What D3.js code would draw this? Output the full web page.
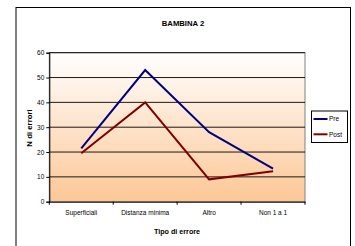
<!DOCTYPE html>
<html>
<head>
<meta charset="utf-8">
<script src="https://cdn.jsdelivr.net/npm/d3@7"></script>
<style>
  body { margin: 0; background: #fff; }
  text { font-family: "Liberation Sans Narrow", "Liberation Sans", Arial, sans-serif; fill: #000; }
</style>
</head>
<body>
<div id="chart"></div>
<script>
// data
var categories = ["Superficiali", "Distanza minima", "Altro", "Non 1 a 1"];
var preValues = [21.5, 53, 28, 13.3];
var postValues = [19.5, 40, 9, 12.3];
var seriesNames = ["Pre", "Post"];
var yTicks = [0, 10, 20, 30, 40, 50, 60];

var svgWidth = 355, svgHeight = 246;
var margin = { top: 52.7, right: 50, bottom: 44.3, left: 49.3 };
var width = 305 - margin.left;
var height = 201.7 - margin.top;

var svg = d3.select("#chart").append("svg")
  .attr("width", svgWidth)
  .attr("height", svgHeight);

// outer chart frame
svg.append("rect")
  .attr("x", 16).attr("y", 7.5)
  .attr("width", 334.5).attr("height", 250)
  .attr("fill", "#fff")
  .attr("stroke", "#000")
  .attr("stroke-width", 1);

var defs = svg.append("defs");
var grad = defs.append("linearGradient")
  .attr("id", "bg").attr("x1", 0).attr("y1", 0).attr("x2", 0).attr("y2", 1);
grad.append("stop").attr("offset", "0%").attr("stop-color", "#ffffff");
grad.append("stop").attr("offset", "100%").attr("stop-color", "#fcc795");

var chartGroup = svg.append("g")
  .attr("transform", `translate(${margin.left}, ${margin.top})`);

var xScale = d3.scaleBand().domain(categories).range([0, width]);
var yScale = d3.scaleLinear().domain([0, 60]).range([height, 0]);

chartGroup.append("rect")
  .attr("width", width).attr("height", height)
  .attr("fill", "url(#bg)")
  .attr("stroke", "#808080")
  .attr("stroke-width", 1);

// grid lines
chartGroup.selectAll(".grid")
  .data(yTicks.filter(d => d > 0))
  .enter().append("line")
  .attr("x1", 0).attr("x2", width)
  .attr("y1", d => yScale(d)).attr("y2", d => yScale(d))
  .attr("stroke", "#000").attr("stroke-width", 0.9);

// y axis
var leftAxis = d3.axisLeft(yScale).tickValues(yTicks).tickSize(3).tickPadding(2);
var yAxis = chartGroup.append("g").call(leftAxis);
yAxis.select(".domain").attr("stroke", "#000");
yAxis.selectAll("text").style("font-size", "6.5px");

// x axis
var bottomAxis = d3.axisBottom(xScale).tickSize(0).tickPadding(9);
var xAxis = chartGroup.append("g")
  .attr("transform", `translate(0, ${height})`)
  .call(bottomAxis);
xAxis.select(".domain").attr("stroke", "#000");
xAxis.selectAll("text").style("font-size", "6.5px");
// tick marks between categories
xAxis.selectAll(".sep")
  .data(d3.range(categories.length + 1))
  .enter().append("line")
  .attr("x1", d => d * xScale.step()).attr("x2", d => d * xScale.step())
  .attr("y1", 0).attr("y2", 3)
  .attr("stroke", "#000");

var line = d3.line()
  .x((d, i) => xScale(categories[i]) + xScale.bandwidth() / 2)
  .y(d => yScale(d));

var colors = ["#000080", "#800000"];
[preValues, postValues].forEach(function(vals, i) {
  chartGroup.append("path")
    .datum(vals)
    .attr("d", line)
    .attr("fill", "none")
    .attr("stroke", colors[i])
    .attr("stroke-width", 2);
});

// title
svg.append("text")
  .attr("x", 183).attr("y", 26)
  .attr("text-anchor", "middle")
  .style("font-size", "7.7px").style("font-weight", "bold")
  .text("BAMBINA 2");

// axis titles
svg.append("text")
  .attr("x", 177).attr("y", 233.5)
  .attr("text-anchor", "middle")
  .style("font-size", "7.2px").style("font-weight", "bold")
  .text("Tipo di errore");

svg.append("text")
  .attr("transform", "translate(32, 128) rotate(-90)")
  .attr("text-anchor", "middle")
  .style("font-size", "7.8px").style("font-weight", "bold")
  .text("N di errori");

// legend
var legend = svg.append("g").attr("transform", "translate(311.5, 111)");
legend.append("rect")
  .attr("width", 36).attr("height", 31.5)
  .attr("fill", "#fff").attr("stroke", "#000").attr("stroke-width", 1);
seriesNames.forEach(function(name, i) {
  var y = 8 + i * 15.3;
  legend.append("line")
    .attr("x1", 2).attr("x2", 16).attr("y1", y).attr("y2", y)
    .attr("stroke", colors[i]).attr("stroke-width", 2);
  legend.append("text")
    .attr("x", 17.5).attr("y", y + 2.3)
    .style("font-size", "6.5px")
    .text(name);
});
</script>
</body>
</html>
